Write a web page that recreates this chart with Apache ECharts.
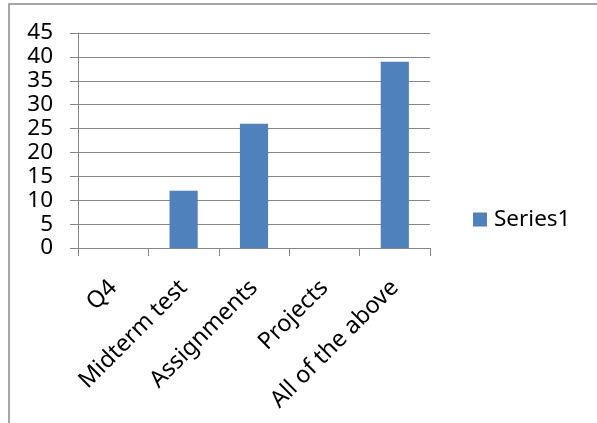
<!DOCTYPE html>
<html>
<head>
<meta charset="utf-8">
<script src="https://cdn.jsdelivr.net/npm/echarts@6/dist/echarts.min.js"></script>
<style>html,body{margin:0;padding:0;background:#fff;}#c{width:597px;height:423px;}</style>
</head>
<body>
<div id="c"></div>
<script>
const categories = ['Q4', 'Midterm test', 'Assignments', 'Projects', 'All of the above'];
const series1 = [0, 12, 26, 0, 39];
const seriesName = 'Series1';
const yMin = 0, yMax = 45, yStep = 5;

const FONT = '"Noto Sans", sans-serif';
const GRAY = '#868686';
const chart = echarts.init(document.getElementById('c'), null, {renderer: 'canvas'});
chart.setOption({
  animation: false,
  backgroundColor: '#fff',
  graphic: [{
    type: 'rect', shape: {x: 9, y: 4, width: 800, height: 600},
    style: {fill: 'none', stroke: '#8a8a8a', lineWidth: 1.5}, silent: true
  }],
  grid: {left: 78, right: 167, top: 33, bottom: 175, containLabel: false},
  legend: {
    data: [seriesName], left: 473, top: 208, padding: 0,
    itemWidth: 14, itemHeight: 14, icon: 'rect', itemGap: 0,
    textStyle: {fontFamily: FONT, fontSize: 22.5, color: '#000', lineHeight: 14, padding: [0, 0, 0, 2]}
  },
  xAxis: {
    type: 'category', data: categories, boundaryGap: true,
    axisLine: {show: true, lineStyle: {color: GRAY, width: 1}},
    axisTick: {show: true, alignWithLabel: false, length: 8, lineStyle: {color: GRAY, width: 1}},
    axisLabel: {rotate: 45, interval: 0, margin: 36, fontFamily: FONT, fontSize: 23.4, color: '#000'},
    splitLine: {show: false}
  },
  yAxis: {
    type: 'value', min: yMin, max: yMax, interval: yStep,
    axisLine: {show: true, lineStyle: {color: GRAY, width: 1}},
    axisTick: {show: true, length: 8, lineStyle: {color: GRAY, width: 1}},
    axisLabel: {margin: 25, fontFamily: FONT, fontSize: 22.5, color: '#000'},
    splitLine: {show: true, lineStyle: {color: GRAY, width: 1}}
  },
  series: [{
    name: seriesName, type: 'bar', data: series1, barWidth: '40%',
    itemStyle: {color: '#4F81BD'}
  }]
});
</script>
</body>
</html>
